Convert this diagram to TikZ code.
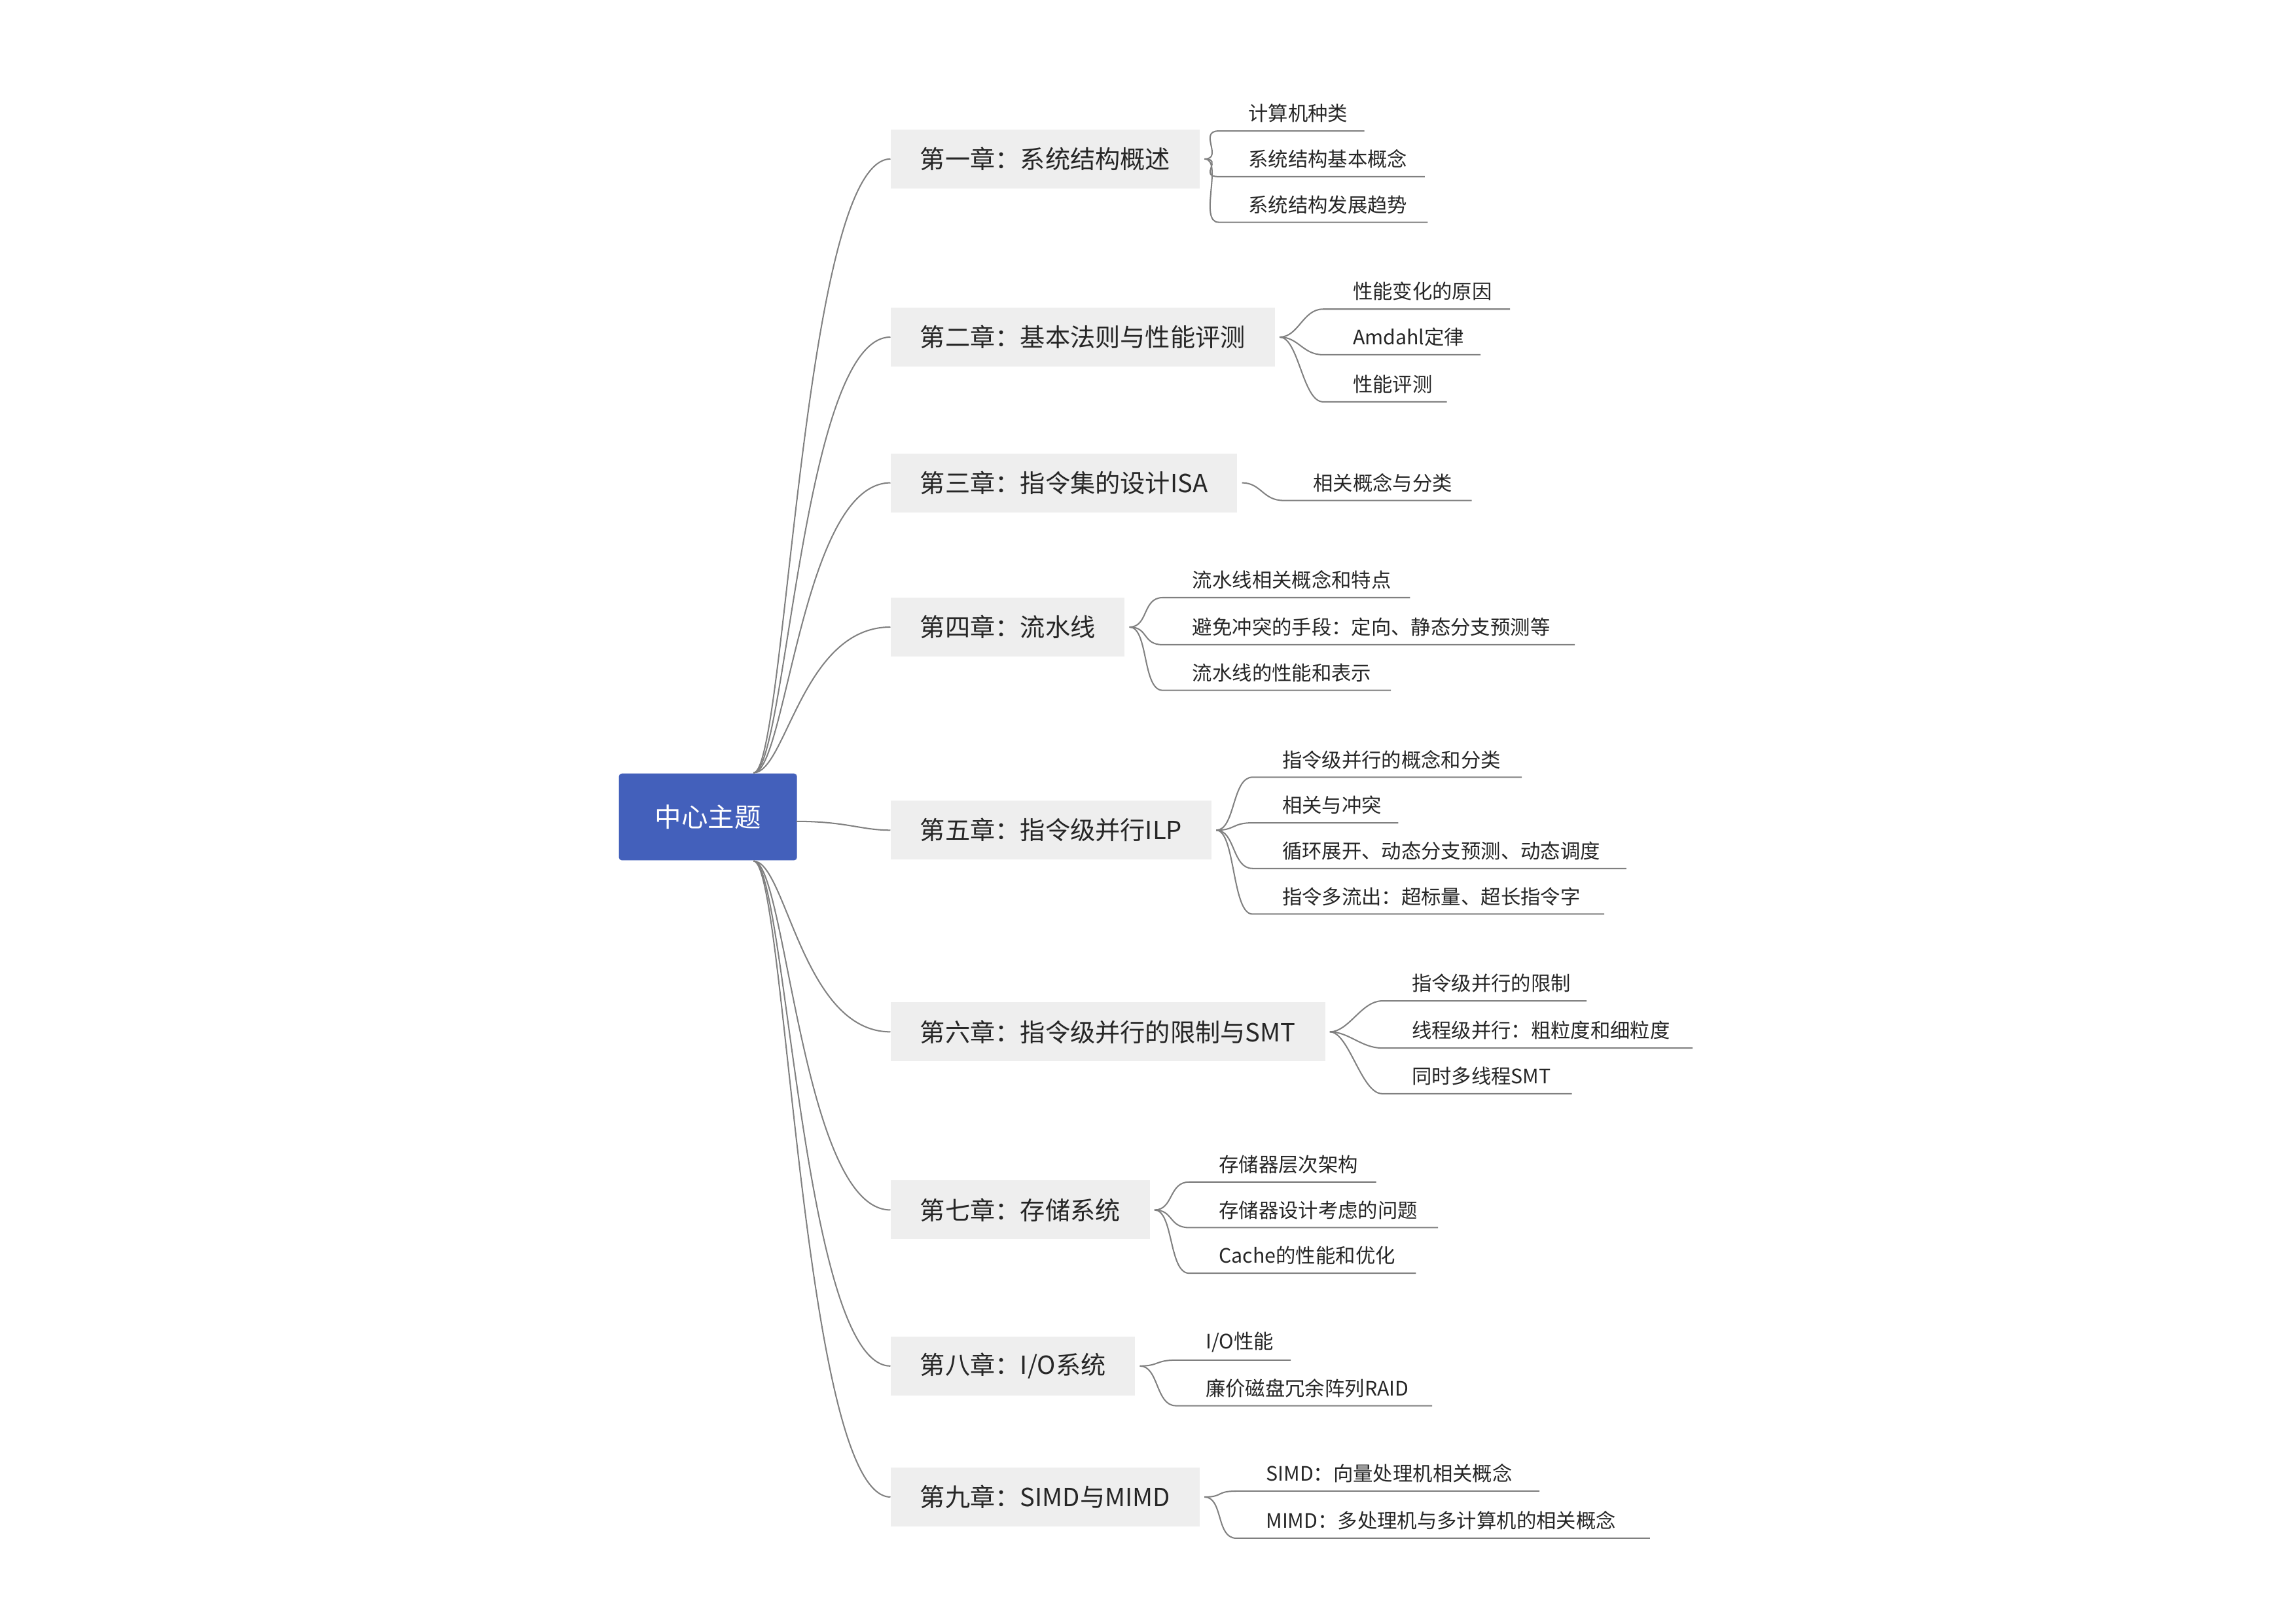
\documentclass[tikz,border=0pt]{standalone}
\usepackage{fontspec}
\setmainfont{Noto Sans CJK SC}
\begin{document}
\begin{tikzpicture}[x=1pt,y=-1pt,
  ln/.style={draw=black!50,line width=0.9pt},
  chap/.style={fill=gray!13,anchor=west,minimum height=40,inner xsep=20,font=\fontsize{17}{20}\selectfont,text=black!85},
  lf/.style={anchor=west,inner sep=0,font=\fontsize{13.5}{16}\selectfont,text=black!85}]
\useasboundingbox (0,0) rectangle (1560,1103);
\node[fill={rgb,255:red,67;green,96;blue,187},text=white,minimum width=121,minimum height=59,inner sep=0,rounded corners=2,font=\fontsize{18}{20}\selectfont] (c) at (481,555) {中心主题};
\newcommand\chapter[4]{%
  \node[chap] (#1) at (605,#2) {#3};
  \draw[ln] (#4) .. controls ($(#4)+(22,0)$) and (545,#2) .. (#1.west);}
\usetikzlibrary{calc}
\coordinate (t) at (512,525);
\coordinate (m) at (541,558);
\coordinate (b) at (512,585);
\chapter{c1}{108}{第一章：系统结构概述}{t}
\chapter{c2}{229}{第二章：基本法则与性能评测}{t}
\chapter{c3}{328}{第三章：指令集的设计ISA}{t}
\chapter{c4}{426}{第四章：流水线}{t}
\node[chap] (c5) at (605,564) {第五章：指令级并行ILP};
\draw[ln] (m) .. controls (575,558) and (585,564) .. (c5.west);
\chapter{c6}{701}{第六章：指令级并行的限制与SMT}{b}
\chapter{c7}{822}{第七章：存储系统}{b}
\chapter{c8}{928}{第八章：I/O系统}{b}
\chapter{c9}{1017}{第九章：SIMD与MIMD}{b}
\newcommand\leaf[6]{%
  \node[lf] (#1) at (#3,#4) {#6};
  \coordinate (#1s) at (#3-20,#4+12);
  \coordinate (#1e) at (#5,#4+12);
  \draw[ln] ($(#2.east)+(3,0)$) .. controls ($(#2.east)+(16,0)$) and ($(#1s)+(-14,0)$) .. (#1s) -- (#1e);}
\leaf{a1}{c1}{848}{77}{927}{计算机种类}
\leaf{a2}{c1}{848}{108}{968}{系统结构基本概念}
\leaf{a3}{c1}{848}{139}{970}{系统结构发展趋势}
\leaf{b1}{c2}{919}{198}{1026}{性能变化的原因}
\leaf{b2}{c2}{919}{229}{1006}{Amdahl定律}
\leaf{b3}{c2}{919}{261}{983}{性能评测}
\leaf{d1}{c3}{892}{328}{1000}{相关概念与分类}
\leaf{e1}{c4}{810}{394}{958}{流水线相关概念和特点}
\leaf{e2}{c4}{810}{426}{1070}{避免冲突的手段：定向、静态分支预测等}
\leaf{e3}{c4}{810}{457}{945}{流水线的性能和表示}
\leaf{f1}{c5}{871}{516}{1034}{指令级并行的概念和分类}
\leaf{f2}{c5}{871}{547}{950}{相关与冲突}
\leaf{f3}{c5}{871}{578}{1105}{循环展开、动态分支预测、动态调度}
\leaf{f4}{c5}{871}{609}{1090}{指令多流出：超标量、超长指令字}
\leaf{g1}{c6}{959}{668}{1078}{指令级并行的限制}
\leaf{g2}{c6}{959}{700}{1150}{线程级并行：粗粒度和细粒度}
\leaf{g3}{c6}{959}{731}{1068}{同时多线程SMT}
\leaf{h1}{c7}{828}{791}{935}{存储器层次架构}
\leaf{h2}{c7}{828}{822}{977}{存储器设计考虑的问题}
\leaf{h3}{c7}{828}{853}{962}{Cache的性能和优化}
\leaf{i1}{c8}{819}{912}{877}{I/O性能}
\leaf{i2}{c8}{819}{943}{973}{廉价磁盘冗余阵列RAID}
\leaf{j1}{c9}{860}{1001}{1046}{SIMD：向量处理机相关概念}
\leaf{j2}{c9}{860}{1033}{1121}{MIMD：多处理机与多计算机的相关概念}
\end{tikzpicture}
\end{document}
